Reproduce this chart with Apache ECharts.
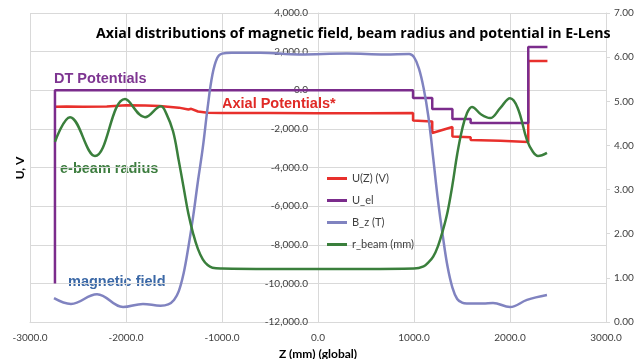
<!DOCTYPE html>
<html><head><meta charset="utf-8">
<script src="https://cdn.jsdelivr.net/npm/echarts@6/dist/echarts.min.js"></script>
<style>html,body{margin:0;padding:0;background:#fff}#c{width:644px;height:359px}</style>
</head><body><div id="c"></div>
<script>
const chartTitle = 'Axial distributions of magnetic field, beam radius and potential in E-Lens';
const seriesNames = ['U(Z) (V)', 'U_el', 'B_z (T)', 'r_beam (mm)'];
const xName = 'Z (mm) (global)';
const yName = 'U, V';
// [z (mm), U (V)]
const uZ = [[-2740,-850],[-2620,-840],[-2450,-860],[-2200,-840],[-2000,-780],[-1800,-790],[-1650,-810],[-1450,-900],[-1350,-1000],[-1320,-960],[-1250,-1100],[-1150,-1170],[-1000,-1180],[-500,-1180],[0,-1190],[500,-1185],[990,-1180],[990,-1570],[1190,-1620],[1190,-2210],[1400,-1900],[1400,-2400],[1590,-2440],[1590,-2580],[1900,-2620],[2190,-2680],[2190,1520],[2390,1520]];
const uEl = [[-2740,-10000],[-2740,0],[990,0],[990,-400],[1190,-400],[1190,-970],[1400,-970],[1400,-1490],[1590,-1490],[1590,-1700],[2190,-1700],[2190,2240],[2390,2240]];
// [z (mm), B (T)]
const bZ = [[-2750,0.54],[-2573,0.41],[-2302,0.63],[-2031,0.34],[-1823,0.41],[-1640,0.37],[-1560,0.40],[-1500,0.50],[-1450,0.70],[-1400,1.10],[-1350,1.70],[-1300,2.40],[-1250,3.20],[-1200,3.95],[-1150,4.85],[-1100,5.60],[-1050,5.98],[-1000,6.08],[-900,6.10],[-600,6.10],[-200,6.06],[300,6.08],[700,6.06],[950,6.07],[1000,6.00],[1050,5.75],[1100,5.30],[1150,4.65],[1200,3.72],[1250,2.75],[1300,1.95],[1350,1.25],[1400,0.78],[1450,0.52],[1500,0.44],[1550,0.42],[1719,0.42],[1823,0.43],[2000,0.34],[2177,0.50],[2385,0.61]];
// [z (mm), r (mm)]
const rBeam = [[-2740,4.08],[-2583,4.64],[-2323,3.76],[-2010,5.05],[-1802,4.64],[-1635,4.89],[-1580,4.72],[-1510,4.32],[-1450,3.65],[-1400,3.05],[-1350,2.45],[-1300,2.00],[-1250,1.65],[-1200,1.42],[-1150,1.29],[-1100,1.23],[-1000,1.21],[-500,1.20],[0,1.20],[500,1.20],[1000,1.21],[1100,1.26],[1150,1.35],[1200,1.48],[1250,1.72],[1300,2.07],[1350,2.50],[1400,3.10],[1450,3.80],[1500,4.35],[1550,4.72],[1604,4.87],[1700,4.70],[1792,4.62],[1900,4.85],[2000,5.07],[2080,4.85],[2177,4.12],[2240,3.85],[2292,3.76],[2385,3.83]];
const noteTexts = ['DT Potentials', 'Axial Potentials*', 'e-beam radius', 'magnetic field'];

const colors = ['#e8302c', '#7b2c8c', '#8083c0', '#3a7f3c'];
const noteColors = ['#7e3591', '#e02a26', '#3d7d3f', '#3b68a6'];
const notePos = [[54, 79], [222, 104], [60, 169], [68, 282]];
const gridColor = '#d9d9d9';
const labelColor = '#404040';
const uiFont = 'Lato';
const grid = {left: 30, right: 38, top: 13, bottom: 37};
const xMin = -3000, xMax = 3000;
const plotW = 644 - grid.left - grid.right;
const zeroOffset = -(0 - xMin) / (xMax - xMin) * plotW;

const chart = echarts.init(document.getElementById('c'), null, {renderer: 'canvas'});
const fmtThousands = v => {
  const s = Math.abs(v).toFixed(1);
  const [i, d] = s.split('.');
  return (v < 0 ? '-' : '') + i.replace(/\B(?=(\d{3})+(?!\d))/g, ',') + '.' + d;
};
const mkSeries = (name, data, color, yIdx, smooth) => ({
  name, type: 'line', data, yAxisIndex: yIdx, showSymbol: false, symbol: 'none',
  smooth: smooth ? 0.4 : false,
  lineStyle: {color, width: 2.5}, itemStyle: {color}, animation: false
});
const option = {
  animation: false,
  backgroundColor: '#fff',
  title: {
    text: chartTitle, left: 91, top: 22,
    textStyle: {fontFamily: '"Open Sans"', fontWeight: 'bold', fontSize: 14.2, color: '#000'}
  },
  grid: Object.assign({containLabel: false, outerBoundsMode: 'none'}, grid),
  legend: {
    orient: 'vertical', left: 322, top: 168, icon: 'rect', itemWidth: 20, itemHeight: 3, itemGap: 11,
    data: seriesNames,
    textStyle: {fontFamily: uiFont, fontSize: 11, color: labelColor}
  },
  xAxis: {
    type: 'value', min: xMin, max: xMax, interval: 1000,
    name: xName, nameLocation: 'middle', nameGap: 21,
    nameTextStyle: {fontFamily: uiFont, fontWeight: 'bold', fontSize: 12, color: '#000'},
    axisLine: {onZero: false, lineStyle: {color: gridColor, width: 1}},
    axisTick: {show: false},
    axisLabel: {formatter: v => v.toFixed(1), margin: 11, fontFamily: uiFont, fontSize: 10, color: labelColor},
    splitLine: {show: true, lineStyle: {color: gridColor, width: 1}}
  },
  yAxis: [{
    type: 'value', min: -12000, max: 4000, interval: 2000, offset: zeroOffset,
    axisLine: {show: true, onZero: false, lineStyle: {color: gridColor, width: 1}},
    axisTick: {show: true, length: 4, lineStyle: {color: gridColor}},
    axisLabel: {formatter: fmtThousands, margin: 10, fontFamily: uiFont, fontSize: 10, color: labelColor},
    splitLine: {show: true, lineStyle: {color: gridColor, width: 1}}
  }, {
    type: 'value', position: 'right', min: 0, max: 7, interval: 1,
    axisLine: {show: true, onZero: false, lineStyle: {color: gridColor, width: 1}},
    axisTick: {show: true, length: 4, lineStyle: {color: gridColor}},
    axisLabel: {formatter: v => v.toFixed(2), margin: 8, fontFamily: uiFont, fontSize: 10, color: labelColor},
    splitLine: {show: false}
  }],
  series: [
    mkSeries(seriesNames[0], uZ, colors[0], 0, false),
    mkSeries(seriesNames[1], uEl, colors[1], 0, false),
    mkSeries(seriesNames[2], bZ, colors[2], 1, true),
    mkSeries(seriesNames[3], rBeam, colors[3], 1, true)
  ],
  graphic: [
    {type: 'text', x: 20, y: 168, rotation: Math.PI / 2, style: {text: yName, align: 'center', verticalAlign: 'middle', fill: '#000', font: 'bold 12px ' + uiFont}}
  ].concat(noteTexts.map((t, i) => ({
    type: 'text', x: notePos[i][0], y: notePos[i][1],
    style: {text: t, align: 'left', verticalAlign: 'middle', fill: noteColors[i], font: 'bold 14.5px "Liberation Sans"'}
  })))
};
chart.setOption(option);
</script>
</body></html>
